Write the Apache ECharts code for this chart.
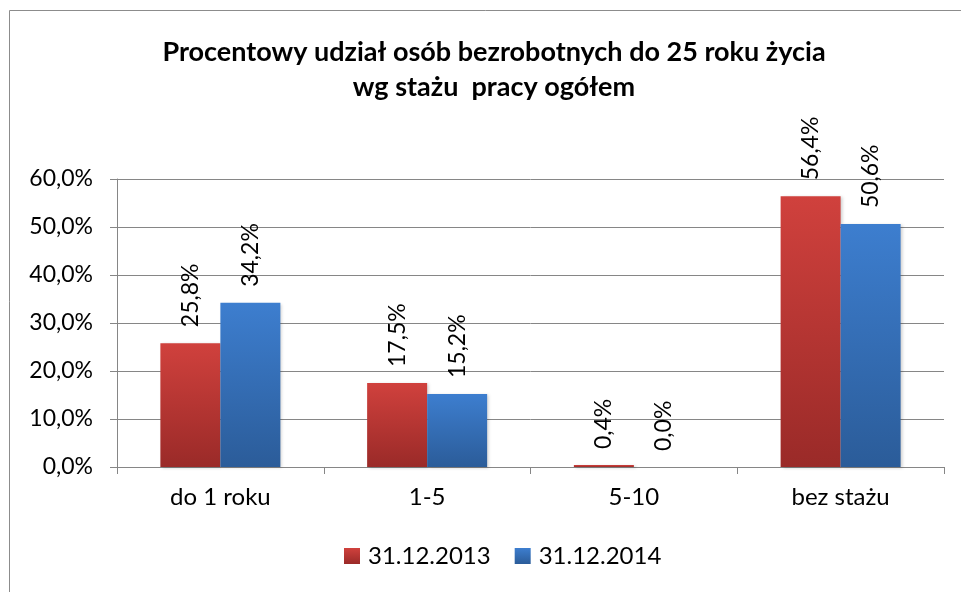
<!DOCTYPE html>
<html>
<head>
<meta charset="utf-8" />
<title>Procentowy udział osób bezrobotnych</title>
<script src="https://cdn.jsdelivr.net/npm/echarts@6/dist/echarts.min.js"></script>
<style>
  html, body { margin: 0; padding: 0; background: #fff; }
  #chart { width: 961px; height: 592px; }
</style>
</head>
<body>
<div id="chart"></div>
<script type="text/javascript">
  var categories = ['do 1 roku', '1-5', '5-10', 'bez stażu'];
  var values2013 = [25.8, 17.5, 0.4, 56.4];
  var values2014 = [34.2, 15.2, 0.0, 50.6];
  var seriesNames = ['31.12.2013', '31.12.2014'];

  var FONT = 'Lato, "Open Sans", sans-serif';

  function pct(v) {
    return v.toFixed(1).replace('.', ',') + '%';
  }

  function grad(top, bottom) {
    return new echarts.graphic.LinearGradient(0, 0, 0, 1, [
      { offset: 0, color: top },
      { offset: 1, color: bottom }
    ]);
  }

  var labelCfg = {
    show: true,
    position: 'top',
    rotate: 90,
    align: 'left',
    verticalAlign: 'middle',
    distance: 16,
    fontFamily: FONT,
    fontSize: 23,
    color: '#000',
    formatter: function (p) { return pct(p.value); }
  };

  var chart = echarts.init(document.getElementById('chart'));
  chart.setOption({
    animation: false,
    backgroundColor: '#fff',
    textStyle: { fontFamily: FONT },
    graphic: [{
      type: 'rect',
      shape: { x: 9.5, y: 10.5, width: 1000, height: 1000 },
      style: { fill: 'none', stroke: '#8c8c8c', lineWidth: 1 },
      silent: true
    }],
    title: {
      text: 'Procentowy udział osób bezrobotnych do 25 roku życia\nwg stażu  pracy ogółem',
      left: 489,
      textAlign: 'center',
      top: 30,
      textStyle: { fontFamily: FONT, fontSize: 27, fontWeight: 'bold', color: '#000', lineHeight: 35 }
    },
    legend: {
      bottom: 19,
      left: 339,
      itemWidth: 16,
      itemHeight: 16,
      itemGap: 24,
      icon: 'rect',
      textStyle: { fontFamily: FONT, fontSize: 24, color: '#000', padding: [0, 0, 0, 3] },
      data: seriesNames
    },
    grid: { left: 117, right: 17, top: 179, bottom: 125 },
    xAxis: {
      type: 'category',
      data: categories,
      axisLine: { lineStyle: { color: '#868686' } },
      axisTick: { show: true, length: 7, lineStyle: { color: '#868686' } },
      axisLabel: { fontFamily: FONT, fontSize: 24, color: '#000', margin: 18 }
    },
    yAxis: {
      type: 'value',
      min: 0,
      max: 60,
      interval: 10,
      axisLine: { show: true, lineStyle: { color: '#868686' } },
      axisTick: { show: true, length: 7, lineStyle: { color: '#868686' } },
      splitLine: { lineStyle: { color: '#868686' } },
      axisLabel: { fontFamily: FONT, fontSize: 23, color: '#000', margin: 24, formatter: pct }
    },
    series: [{
      name: seriesNames[0],
      type: 'bar',
      data: values2013,
      barWidth: 60,
      barGap: '0%',
      itemStyle: {
        color: grad('#d0413d', '#9a2a28'),
        shadowColor: 'rgba(0,0,0,0.18)', shadowBlur: 3, shadowOffsetX: 2, shadowOffsetY: 1
      },
      label: labelCfg
    }, {
      name: seriesNames[1],
      type: 'bar',
      data: values2014,
      barWidth: 60,
      itemStyle: {
        color: grad('#3d7ecf', '#2b5c99'),
        shadowColor: 'rgba(0,0,0,0.18)', shadowBlur: 3, shadowOffsetX: 2, shadowOffsetY: 1
      },
      label: labelCfg
    }]
  });
</script>
</body>
</html>
